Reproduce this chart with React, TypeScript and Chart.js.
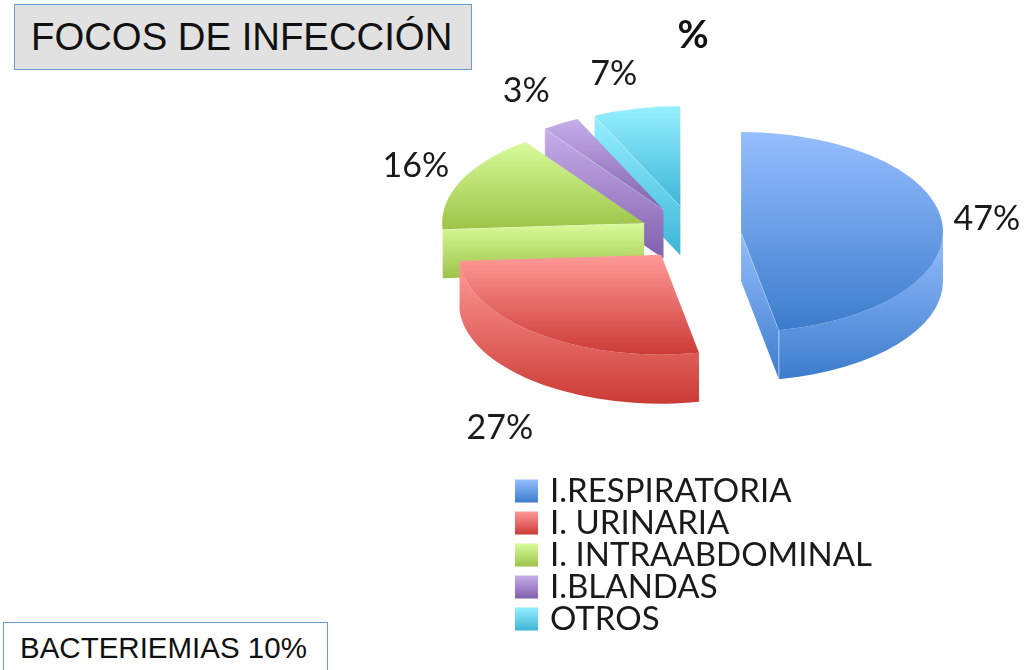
import React, { useEffect, useRef } from "react";
import { Chart, registerables } from "chart.js";

Chart.register(...registerables);

const categories = ["I.RESPIRATORIA", "I. URINARIA", "I. INTRAABDOMINAL", "I.BLANDAS", "OTROS"];
const percentages = [47, 27, 16, 3, 7];
const chartTitle = "%";
const headerText = "FOCOS DE INFECCIÓN";
const footerText = "BACTERIEMIAS 10%";

const topColors = ["#96BEFE", "#FF9A98", "#D9FB9B", "#C7AEEA", "#96EFFF"];
const bottomColors = ["#3C7CCC", "#CB3B36", "#9DC348", "#8160AC", "#3DB6D7"];
const midColors = ["#6A9DE5", "#E56A67", "#BBDF72", "#A487CB", "#69D2EB"];
// Chart.js moves a slice by offset / 4
const explode = [193, 208, 216, 232, 232];
const paintOrder = [4, 3, 2, 1, 0];
const labelNudge = [[-3, -1], [-8, 27], [-2, -4], [-10, -12], [-12, -11]];

const SQUASH = 0.495;
const DEPTH = 49;
const LABEL_RADIUS = 250;
const FONT = "Lato";

function drawPie3D(chart: any) {
  const ctx = chart.ctx as CanvasRenderingContext2D;
  const arcs = chart.getDatasetMeta(0).data;

  const grad = (y0: number, y1: number, i: number) => {
    const g = ctx.createLinearGradient(0, y0, 0, y1);
    g.addColorStop(0, topColors[i]);
    g.addColorStop(1, bottomColors[i]);
    return g;
  };

  paintOrder.forEach((i) => {
    const arc = arcs[i];
    const a0 = arc.startAngle;
    const a1 = arc.endAngle;
    const r = arc.outerRadius;
    const mid = (a0 + a1) / 2;
    const shift = (arc.options.offset || 0) / 4;
    const cx = arc.x + Math.cos(mid) * shift;
    const cy = arc.y + Math.sin(mid) * shift * SQUASH;
    const rx = (a: number) => cx + Math.cos(a) * r;
    const ry = (a: number) => cy + Math.sin(a) * r * SQUASH;

    // radial cut faces, only when they face the viewer
    [
      { a: a0, normalSin: Math.sin(a0 - Math.PI / 2) },
      { a: a1, normalSin: Math.sin(a1 + Math.PI / 2) },
    ].forEach(({ a, normalSin }) => {
      if (normalSin <= 0) return;
      const top = Math.min(cy, ry(a));
      const bottom = Math.max(cy, ry(a)) + DEPTH;
      ctx.beginPath();
      ctx.moveTo(cx, cy);
      ctx.lineTo(rx(a), ry(a));
      ctx.lineTo(rx(a), ry(a) + DEPTH);
      ctx.lineTo(cx, cy + DEPTH);
      ctx.closePath();
      ctx.fillStyle = grad(top, bottom, i);
      ctx.fill();
    });

    // outer wall: the part of the rim on the near side
    const w0 = Math.max(a0, 0);
    const w1 = Math.min(a1, Math.PI);
    if (w1 > w0) {
      const tops: number[] = [];
      for (let k = 0; k <= 40; k++) tops.push(ry(w0 + ((w1 - w0) * k) / 40));
      ctx.beginPath();
      ctx.ellipse(cx, cy, r, r * SQUASH, 0, w0, w1);
      ctx.lineTo(rx(w1), ry(w1) + DEPTH);
      ctx.ellipse(cx, cy + DEPTH, r, r * SQUASH, 0, w1, w0, true);
      ctx.closePath();
      ctx.fillStyle = grad(Math.min(...tops), Math.max(...tops) + DEPTH, i);
      ctx.fill();
    }

    // light edges on the visible cut faces
    [
      { a: a0, normalSin: Math.sin(a0 - Math.PI / 2) },
      { a: a1, normalSin: Math.sin(a1 + Math.PI / 2) },
    ].forEach(({ a, normalSin }) => {
      if (normalSin <= 0.15) return;
      ctx.beginPath();
      ctx.moveTo(cx, cy);
      ctx.lineTo(rx(a), ry(a));
      ctx.lineTo(rx(a), ry(a) + DEPTH);
      ctx.strokeStyle = "rgba(255,255,255,0.55)";
      ctx.lineWidth = 1;
      ctx.stroke();
    });

    // top face
    const ys: number[] = [cy];
    for (let k = 0; k <= 60; k++) ys.push(ry(a0 + ((a1 - a0) * k) / 60));
    ctx.beginPath();
    ctx.moveTo(cx, cy);
    ctx.ellipse(cx, cy, r, r * SQUASH, 0, a0, a1);
    ctx.closePath();
    ctx.fillStyle = grad(Math.min(...ys), Math.max(...ys), i);
    ctx.fill();
  });

  // value labels
  ctx.save();
  ctx.font = `34px ${FONT}`;
  ctx.fillStyle = "#1A1A1A";
  ctx.textAlign = "center";
  ctx.textBaseline = "middle";
  arcs.forEach((arc: any, i: number) => {
    const mid = (arc.startAngle + arc.endAngle) / 2;
    const shift = (arc.options.offset || 0) / 4;
    const cx = arc.x + Math.cos(mid) * shift;
    const cy = arc.y + Math.sin(mid) * shift * SQUASH;
    const drop = Math.sin(mid) > 0 ? DEPTH : 0;
    ctx.fillText(
      `${percentages[i]}%`,
      cx + Math.cos(mid) * LABEL_RADIUS + labelNudge[i][0],
      cy + Math.sin(mid) * LABEL_RADIUS * SQUASH + drop + labelNudge[i][1]
    );
  });
  ctx.restore();
}

// The legend's swatch is drawn as a thick stroke round a small box, which
// brings the label closer to the swatch than the library's default gap.
const SWATCH = 23;
const SWATCH_CORE = 14;

const pie3dPlugin = {
  id: "pie3d",
  afterLayout(chart: any) {
    const legend = chart.legend;
    const stroke = SWATCH - SWATCH_CORE;
    const pad = legend.options.labels.padding;
    legend.left = 515 + stroke / 2 - pad;
    legend.right = 1015;
    legend.top = 475.5;
    legend.bottom = 665;
    // the legend clips to its own box, which would cut the swatch's stroke
    legend.draw = () => legend._draw();
  },
  beforeDraw(chart: any) {
    const legend = chart.legend;
    const labels = legend.options.labels;
    const fontSize = labels.font.size;
    const step = fontSize + labels.padding;
    const stroke = SWATCH - SWATCH_CORE;
    (legend.legendItems || []).forEach((item: any, i: number) => {
      const y = legend.top + labels.padding + i * step + (fontSize - SWATCH) / 2;
      const g = chart.ctx.createLinearGradient(0, y, 0, y + SWATCH);
      g.addColorStop(0, topColors[i]);
      g.addColorStop(1, bottomColors[i]);
      item.fillStyle = g;
      item.strokeStyle = g;
      item.lineWidth = stroke;
    });
  },
  beforeDatasetDraw(chart: any) {
    drawPie3D(chart);
    return false;
  },
};

export default function App() {
  const ref = useRef<HTMLCanvasElement | null>(null);

  useEffect(() => {
    document.body.style.margin = "0";
    const chart = new Chart(ref.current as HTMLCanvasElement, {
      type: "pie",
      data: {
        labels: categories,
        datasets: [
          {
            data: percentages,
            backgroundColor: midColors,
            borderWidth: 0,
            offset: explode,
          },
        ],
      },
      options: {
        responsive: false,
        animation: false,
        events: [],
        radius: 202,
        layout: { padding: { left: 362, right: 0, top: 0, bottom: 260 } },
        plugins: {
          tooltip: { enabled: false },
          title: {
            display: true,
            text: chartTitle,
            fullSize: false,
            color: "#111111",
            font: { family: FONT, size: 38, weight: "bold" },
            padding: { top: 13, bottom: 0 },
          },
          legend: {
            position: "chartArea",
            align: "start",
            labels: {
              boxWidth: SWATCH_CORE,
              boxHeight: SWATCH_CORE,
              padding: -1,
              color: "#1A1A1A",
              font: { family: FONT, size: 33 },
            },
          },
        },
      },
      plugins: [pie3dPlugin],
    } as any);
    return () => chart.destroy();
  }, []);

  return (
    <div style={{ position: "relative", width: 1024, height: 670, overflow: "hidden", background: "#fff" }}>
      <canvas ref={ref} width={1024} height={670} style={{ display: "block" }} />
      <div
        style={{
          position: "absolute",
          left: 14,
          top: 4,
          width: 456,
          height: 64,
          boxSizing: "content-box",
          background: "#E1E1E1",
          border: "1px solid #6C9BD2",
          font: '38.3px "Liberation Sans"',
          color: "#111",
          lineHeight: "63px",
          textIndent: 16,
          whiteSpace: "nowrap",
        }}
      >
        {headerText}
      </div>
      <div
        style={{
          position: "absolute",
          left: 3,
          top: 622,
          width: 323,
          height: 60,
          background: "#fff",
          border: "1px solid #6C9BD2",
          font: '29.5px "Liberation Sans"',
          color: "#111",
          lineHeight: "50px",
          textIndent: 16,
          whiteSpace: "nowrap",
        }}
      >
        {footerText}
      </div>
    </div>
  );
}
